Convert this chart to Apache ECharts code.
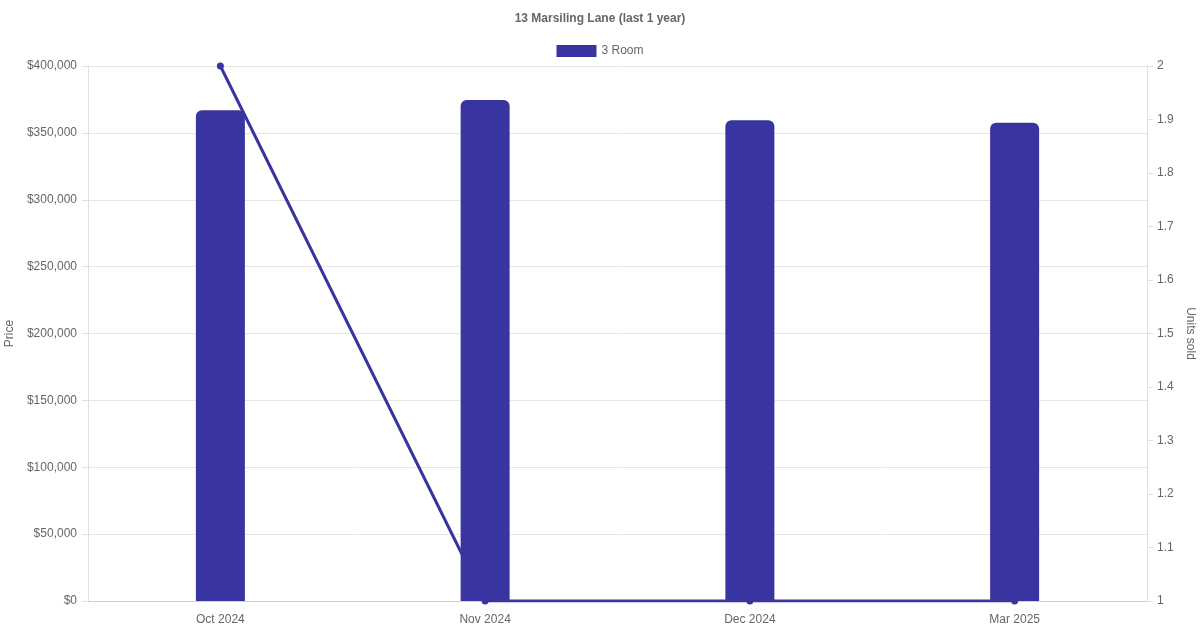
<!DOCTYPE html>
<html><head><meta charset="utf-8">
<script src="https://cdn.jsdelivr.net/npm/echarts@6/dist/echarts.min.js"></script>
<style>html,body{margin:0;padding:0;background:#fff}#c{width:1200px;height:630px}</style>
</head><body><div id="c"></div>
<script>
const categories = ['Oct 2024', 'Nov 2024', 'Dec 2024', 'Mar 2025'];
const priceValues = [367000, 374500, 359500, 357500];
const unitsSold = [2, 1, 1, 1];
const seriesName = '3 Room';
const titleText = '13 Marsiling Lane (last 1 year)';
const color = '#3935A0';
const txt = '#666';
const font = '"Liberation Sans", Arial, sans-serif';

const chart = echarts.init(document.getElementById('c'), null, {renderer: 'canvas'});
chart.setOption({
  animation: false,
  textStyle: {fontFamily: font},
  title: {text: titleText, left: 'center', top: 8, textStyle: {fontSize: 12, fontWeight: 'bold', color: txt, fontFamily: font}},
  legend: {data: [{name: seriesName, icon: 'rect'}], top: 40, itemWidth: 40, itemHeight: 12, itemGap: 6,
    textStyle: {fontSize: 12, color: txt, fontFamily: font}},
  grid: {left: 88, right: 53, top: 66, bottom: 29, containLabel: false, outerBoundsMode: 'none'},
  xAxis: {type: 'category', data: categories,
    axisLine: {lineStyle: {color: '#d0d0d0'}}, axisTick: {show: false},
    axisLabel: {color: txt, fontSize: 12, margin: 13, fontFamily: font}},
  yAxis: [
    {type: 'value', min: 0, max: 400000, interval: 50000, name: 'Price', nameLocation: 'middle', nameGap: 71,
     nameTextStyle: {color: txt, fontSize: 12, fontFamily: font},
     axisLine: {show: true, lineStyle: {color: '#e0e0e0'}}, axisTick: {show: true, length: 6, lineStyle: {color: '#e0e0e0'}},
     splitLine: {lineStyle: {color: '#e5e5e5'}},
     axisLabel: {color: txt, fontSize: 12, margin: 11, fontFamily: font, formatter: v => '$' + v.toLocaleString('en-US')}},
    {type: 'value', min: 1, max: 2, interval: 0.1, name: 'Units sold', nameLocation: 'middle', nameGap: 36, nameRotate: -90,
     nameTextStyle: {color: txt, fontSize: 12, fontFamily: font},
     axisLine: {show: true, lineStyle: {color: '#e0e0e0'}}, axisTick: {show: true, length: 6, lineStyle: {color: '#e0e0e0'}},
     splitLine: {show: false},
     axisLabel: {color: txt, fontSize: 12, margin: 10, fontFamily: font, formatter: v => String(Math.round(v * 10) / 10)}}
  ],
  series: [
    {name: seriesName, type: 'bar', yAxisIndex: 0, data: priceValues, barWidth: 49,
     itemStyle: {color: color, borderRadius: [6, 6, 0, 0]}, z: 2},
    {name: 'Units sold', type: 'line', yAxisIndex: 1, data: unitsSold, symbol: 'circle', symbolSize: 7,
     lineStyle: {color: color, width: 3}, itemStyle: {color: color}, z: 3}
  ]
});
</script></body></html>
